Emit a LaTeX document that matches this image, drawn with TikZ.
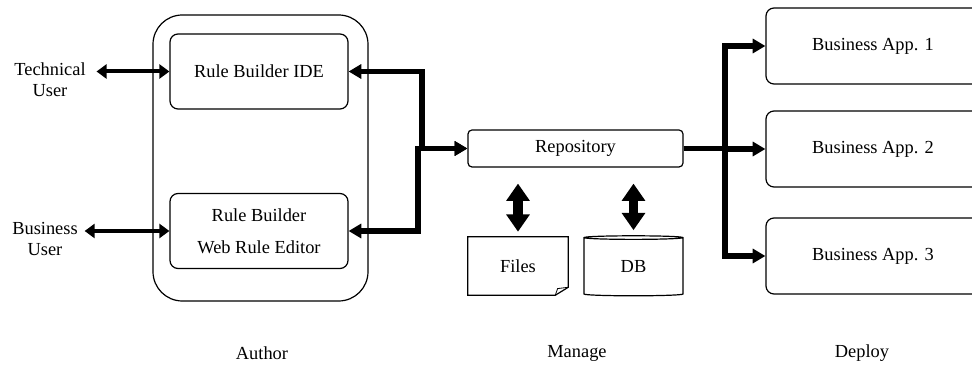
\documentclass[tikz,border=0pt]{standalone}
\usepackage{fontspec}
\setmainfont{Liberation Serif}
\usepackage{tikz}
\usetikzlibrary{positioning,arrows.meta,shapes.geometric}
\tikzset{
	box/.style={draw,line width=0.9pt,rounded corners=6pt,inner sep=0pt,align=center},
	appbox/.style={box,minimum width=160.5pt,minimum height=57pt},
	tool/.style={box,minimum width=133.5pt,minimum height=56.25pt},
	label/.style={align=center,inner sep=3pt},
	user/.style={line width=3pt,{Triangle[length=7.5pt,width=10.5pt]}-{Triangle[length=7.5pt,width=10.5pt]}},
	bus/.style={line width=4pt,-{Triangle[length=9.5pt,width=10.5pt]}},
	busboth/.style={line width=4pt,{Triangle[length=9.5pt,width=10.5pt]}-{Triangle[length=9.5pt,width=10.5pt]}},
	store/.style={line width=7pt,{Triangle[length=13pt,width=17pt]}-{Triangle[length=13pt,width=17pt]}}
}
\begin{document}
\begin{tikzpicture}[x=0.75pt,y=-0.75pt,font=\fontsize{13.8}{15.5}\selectfont]
	\useasboundingbox (0,0) rectangle (972,373);
	\node[box,rounded corners=22pt,minimum width=161.25pt,minimum height=214.5pt] (author) at (260.5,158) {};
	\node[tool] (ide) at (259,71.5) {Rule Builder IDE};
	\node[tool] (web) at (259,231) {Rule Builder\\[8.5pt]Web Rule Editor};
	\node[label] (tech) at (50,80) {Technical\\User};
	\node[label] (buser) at (45,239) {Business\\User};
	\node[box,rounded corners=3pt,minimum width=161.25pt,minimum height=27.75pt] (repo) at (575.5,148.5) {Repository};
	\node[inner sep=0pt,minimum width=75pt,minimum height=43.5pt] (files) at (518,266) {Files};
	\node[draw,line width=0.9pt,cylinder,shape border rotate=90,aspect=0.14,inner sep=0pt,minimum width=74.25pt,minimum height=45pt] (db) at (633.5,267) {DB};
	\node[appbox] (app1) at (873,46) {Business App. 1};
	\node[appbox] (app2) at (873,149) {Business App. 2};
	\node[appbox] (app3) at (873,256) {Business App. 3};
	\node (lauthor) at (262,353) {Author};
	\node (lmanage) at (577,353) {Manage};
	\node (ldeploy) at (862,353) {Deploy};
	\coordinate (j1) at (422,148.5);
	\coordinate (j2) at (418,148.5);
	\coordinate (trunk) at (725,148.5);
	\draw[line width=0.9pt] (files.south west) -- (files.north west) -- (files.north east) -- ([yshift=6pt]files.south east) -- ([xshift=-9.75pt]files.south east) -- cycle;
	\draw[line width=0.6pt] ([xshift=-9.75pt]files.south east) -- ([xshift=-8pt,yshift=5pt]files.south east) -- ([yshift=6pt]files.south east);
	\draw[user,shorten <=5pt] (tech.east |- ide.west) -- (ide.west);
	\draw[user,shorten <=2pt] (buser.east |- web.west) -- (web.west);
	\draw[busboth] (ide.east) -| (j1) -- (repo.west);
	\draw[busboth] (web.east) -| (j2) -- (repo.west);
	\foreach \n in {1,2,3}
		\draw[bus] (repo.east) -- (trunk) |- (app\n.west);
	\draw[store,shorten <=12pt,shorten >=3.75pt] (files.north |- repo.south) -- (files.north);
	\draw[store,shorten <=12pt,shorten >=3.75pt] (db.north |- repo.south) -- (db.north);
\end{tikzpicture}
\end{document}
